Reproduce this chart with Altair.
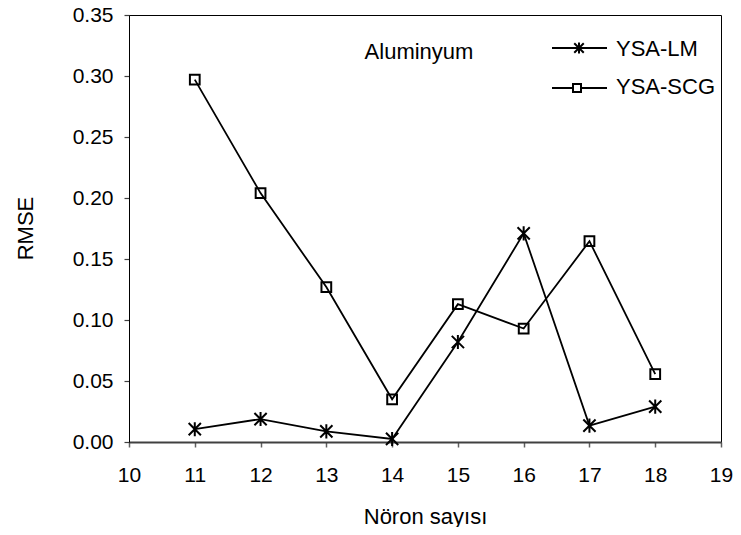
import altair as alt
import pandas as pd

neurons = [11, 12, 13, 14, 15, 16, 17, 18]
rmse_lm = [0.0105, 0.0188, 0.0087, 0.0025, 0.082, 0.171, 0.0134, 0.029]
rmse_scg = [0.297, 0.204, 0.127, 0.035, 0.113, 0.093, 0.1646, 0.0556]
series_names = ["YSA-LM", "YSA-SCG"]
x_ticks = [10, 11, 12, 13, 14, 15, 16, 17, 18, 19]
y_ticks = [0.0, 0.05, 0.10, 0.15, 0.20, 0.25, 0.30, 0.35]
annotation = "Aluminyum"
x_title = "Nöron sayısı"
y_title = "RMSE"

FONT = "Liberation Sans"
STAR = "M-1,-1L1,1M-1,1L1,-1M0,-1.15L0,1.15"

df_lm = pd.DataFrame({"n": neurons, "rmse": rmse_lm})
df_scg = pd.DataFrame({"n": neurons, "rmse": rmse_scg})

xenc = alt.X(
    "n:Q",
    scale=alt.Scale(domain=[10, 19], nice=False, zero=False),
    axis=alt.Axis(
        values=x_ticks, format="d", title=x_title, grid=False, labelFlush=False,
        domainColor="#404040", domainWidth=2, tickColor="#606060", tickWidth=1.5,
        tickSize=5, labelPadding=17, labelFontSize=21, labelFont=FONT, labelColor="black",
        titleFont=FONT, titleFontSize=22, titleFontWeight="normal", titleColor="black",
        titleBaseline="alphabetic", titleY=81, titleX=296, titleAlign="center",
    ),
)
yenc = alt.Y(
    "rmse:Q",
    scale=alt.Scale(domain=[0, 0.35], nice=False),
    axis=alt.Axis(
        values=y_ticks, format=".2f", title=y_title, grid=False, labelFlush=False,
        domainColor="black", domainWidth=1, tickColor="#404040", tickWidth=1.2,
        tickSize=5, labelPadding=11, labelFontSize=21, labelFont=FONT, labelColor="black",
        titleFont=FONT, titleFontSize=22, titleFontWeight="normal", titleColor="black",
        titleAngle=-90, titleBaseline="alphabetic", titleX=-97, titleY=213, titleAlign="center",
    ),
)

line_lm = alt.Chart(df_lm).mark_line(color="black", strokeWidth=1.8).encode(x=xenc, y=yenc)
pts_lm = alt.Chart(df_lm).mark_point(
    shape=STAR, size=150, stroke="black", strokeWidth=2, filled=False, opacity=1
).encode(x="n:Q", y="rmse:Q")
line_scg = alt.Chart(df_scg).mark_line(color="black", strokeWidth=1.8).encode(x="n:Q", y="rmse:Q")
pts_scg = alt.Chart(df_scg).mark_point(
    shape="square", size=95, stroke="black", strokeWidth=2, filled=False, opacity=1
).encode(x="n:Q", y="rmse:Q")

one = pd.DataFrame({"a": [0]})
ann = alt.Chart(one).mark_text(
    text=annotation, font=FONT, fontSize=22, align="center", baseline="middle", color="black"
).encode(x=alt.value(290), y=alt.value(37))

leg_y = [33, 73]
leg_rule_lm = alt.Chart(one).mark_rule(color="black", strokeWidth=1.8).encode(
    x=alt.value(423), x2=alt.value(478), y=alt.value(leg_y[0]))
leg_rule_scg = alt.Chart(one).mark_rule(color="black", strokeWidth=1.8).encode(
    x=alt.value(423), x2=alt.value(478), y=alt.value(leg_y[1]))
leg_pt_lm = alt.Chart(one).mark_point(
    shape=STAR, size=90, stroke="black", strokeWidth=2, filled=False, opacity=1
).encode(x=alt.value(450), y=alt.value(leg_y[0]))
leg_pt_scg = alt.Chart(one).mark_point(
    shape="square", size=64, stroke="black", strokeWidth=2, fill="white", filled=True, opacity=1
).encode(x=alt.value(448), y=alt.value(leg_y[1]))
leg_txt_lm = alt.Chart(one).mark_text(
    text=series_names[0], font=FONT, fontSize=22, align="left", baseline="middle", color="black"
).encode(x=alt.value(487), y=alt.value(leg_y[0] + 1))
leg_txt_scg = alt.Chart(one).mark_text(
    text=series_names[1], font=FONT, fontSize=22, align="left", baseline="middle", color="black"
).encode(x=alt.value(487), y=alt.value(leg_y[1] - 1))

chart = alt.layer(
    line_lm, line_scg, pts_lm, pts_scg, ann,
    leg_rule_lm, leg_rule_scg, leg_pt_lm, leg_pt_scg, leg_txt_lm, leg_txt_scg,
).properties(
    width=592, height=427,
    autosize=alt.AutoSizeParams(type="none"),
    padding={"left": 121, "top": 7, "right": 12, "bottom": 85},
    background="white",
).configure_view(stroke="black", strokeWidth=1)

chart.save("out.html", embed_options={"renderer": "svg", "actions": False})
